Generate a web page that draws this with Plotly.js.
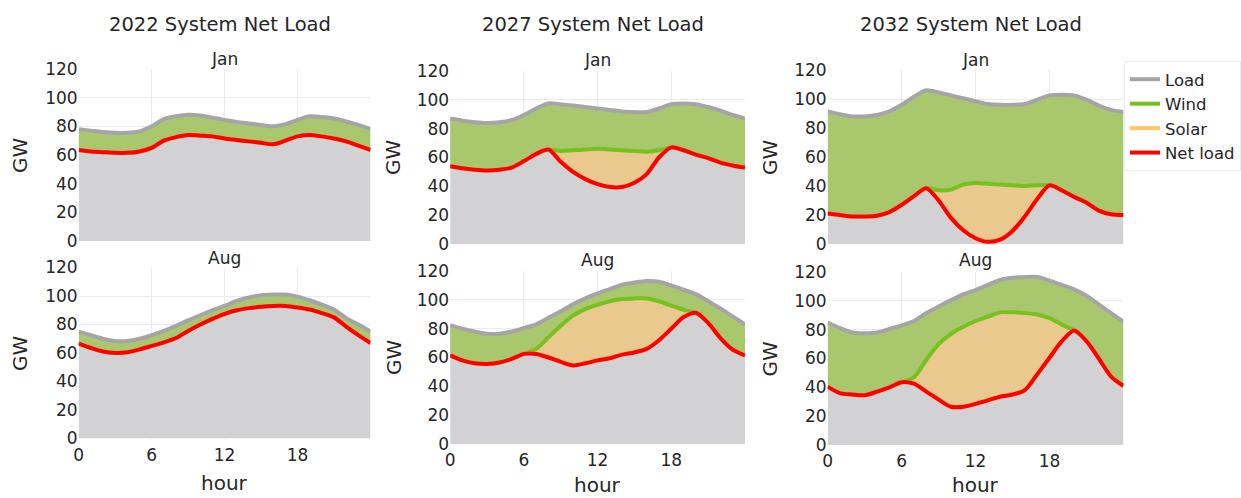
<!DOCTYPE html>
<html><head><meta charset="utf-8">
<script src="https://cdn.plot.ly/plotly-3.0.1.min.js"></script>
<style>html,body{margin:0;padding:0;background:#fff}#chart{width:1241px;height:498px}</style>
</head><body><div id="chart"></div>
<script>
// ---------- data ----------
const hours = [0,1,2,3,4,5,6,7,8,9,10,11,12,13,14,15,16,17,18,19,20,21,22,23,24];
const xTicks = [0,6,12,18];
const yearTitles = ['2022 System Net Load','2027 System Net Load','2032 System Net Load'];
const monthNames = ['Jan','Aug'];
const seriesNames = ['Load','Wind','Solar','Net load'];

const load2022Jan  = [78,77,76,75.5,75.5,76.5,80,85,87,88,87.5,86,84.5,83,82,81,80,81.5,84.5,87,86.5,85.5,83.5,81,78];
const wind2022Jan  = [14.5,14.5,14,14,14,14,15,15,14.5,14,14,13,13,12.5,12.5,12.5,12.5,11.5,11.5,13,13.5,14,14,14.5,14.5];
const solar2022Jan = [0,0,0,0,0,0,0,0,0,0,0,0,0,0,0,0,0,0,0,0,0,0,0,0,0];

const load2022Aug  = [75,72.5,70,68.5,68.5,70,72.5,75.5,79,83,86.5,90,93,96.5,99,100.5,101,101,99.5,97,94,90.5,84.5,80,75];
const wind2022Aug  = [8.5,9,9,8.5,8,7.5,7.5,8,8.5,7.5,6.5,6,5.5,6.5,7.5,8,8,8,7.5,6.5,6,5.5,6,7.5,8];
const solar2022Aug = [0,0,0,0,0,0,0,0,0,0,0,0,0,0,0,0,0,0,0,0,0,0,0,0,0];

const load2027Jan  = [87,85.5,84.5,84,84.5,86,89.5,94,97.5,97,96,95,94,93,92,91.5,91.5,94,97,97.5,97,95,92.5,89.5,87];
const wind2027Jan  = [33,33,33,33,33,33,32,31.5,32,32.5,31,29.5,28,27.5,27,27,27.5,29,30,32.5,35,35.5,36,35,34];
const solar2027Jan = [0,0,0,0,0,0,0,0,0,7.5,15,20.5,24.5,26,25.5,22,15.5,5,0,0,0,0,0,0,0];

const load2027Aug  = [82.5,80,78,76.5,76.5,78,80.5,83,87.5,92,97,101,104.5,107.5,110.5,112,113,112.5,110,107,104,99,94,88.5,83];
const wind2027Aug  = [21,22,22,21,20,19,18,17,13.5,10,8,7.5,8,8.5,10,11,12,13.5,14,14,13,15,20.5,23,21.5];
const solar2027Aug = [0,0,0,0,0,0,0,3.5,14,25,34.5,37.5,38.5,39.5,38.5,37.5,35,27,16,5,0,0,0,0,0];

const load2032Jan  = [91.5,89.5,88,88,89,91.5,96,101.5,106,104.5,102.5,100.5,98.5,96.5,96,96,96.5,99.5,102.5,103,102.5,99.5,95.5,92.5,91];
const wind2032Jan  = [70.5,69.5,69,69,69.5,69.5,69,68.5,67.5,67.5,65,59.5,56.5,55,55,55.5,56.5,59,62,66,70,71,72.5,72,71];
const solar2032Jan = [0,0,0,0,0,0,0,0,0,7,19.5,31.5,38,40,38,31.5,21,9.5,0,0,0,0,0,0,0];

const load2032Aug  = [85,81,78,77.5,78,80.5,83,86,91.5,96,100.5,104.5,107.5,111,114.5,116,116.5,116.5,114,111,108,103.5,97.5,91.5,85.5];
const wind2032Aug  = [44.5,45,43,43,41,40.5,39.5,39,32.5,26,23.5,22.5,21.5,22,22.5,24,25,26,26,27.5,28.5,31.5,37.5,44,44.5];
const solar2032Aug = [0,0,0,0,0,0,0,4.5,22,38.5,50.5,55.5,57.5,58,58.5,57,53.5,41.5,27.5,11.5,0,0,0,0,0];

// ---------- styling / layout config ----------
const W = 1241, H = 498;
const FONT = 'Verdana, "DejaVu Sans", sans-serif';
const TXT = '#262626';
const C = {
  grayFill: '#d2d2d4', greenFill: '#a9c76c', solarFill: '#eac98f',
  loadLine: '#a5a5a8', windLine: '#76c11f', solarLine: '#ffc861', netLine: '#ff0000'
};
const cols = [
  {x0:79,  x1:372,  top:[69,241], bot:[267.5,438.5], titleX:221,   gwX:20,  hourY:483, janY:59, augY:257.5},
  {x0:452, x1:748,  top:[71,244], bot:[271,444],     titleX:595,   gwX:395, hourY:485, janY:60, augY:260},
  {x0:831, x1:1128, top:[70,244], bot:[272,445],     titleX:974.5, gwX:773, hourY:485, janY:60, augY:260}
];
const panels = [
  [[load2022Jan, wind2022Jan, solar2022Jan], [load2022Aug, wind2022Aug, solar2022Aug]],
  [[load2027Jan, wind2027Jan, solar2027Jan], [load2027Aug, wind2027Aug, solar2027Aug]],
  [[load2032Jan, wind2032Jan, solar2032Jan], [load2032Aug, wind2032Aug, solar2032Aug]]
];

const px = x => x / W;
const py = y => 1 - y / H;
const line = {shape:'spline', smoothing:0.8};

const traces = [];
const layout = {
  width: W, height: H, autosize: false,
  margin: {l:0, r:0, t:0, b:0},
  paper_bgcolor: '#fff', plot_bgcolor: '#fff',
  font: {family: FONT, color: TXT, size: 17},
  showlegend: true,
  legend: {x: px(1129), y: py(61), xanchor:'left', yanchor:'top', tracegroupgap: 0,
           font:{family:FONT, size:16.5, color:TXT}, bgcolor:'#fff',
           bordercolor:'#ececec', borderwidth:1},
  annotations: []
};

let k = 0;
cols.forEach((col, ci) => {
  [0,1].forEach(ri => {
    k++;
    const xa = k === 1 ? 'x' : 'x' + k, ya = k === 1 ? 'y' : 'y' + k;
    const xk = k === 1 ? 'xaxis' : 'xaxis' + k, yk = k === 1 ? 'yaxis' : 'yaxis' + k;
    const [load, wind, solar] = panels[ci][ri];
    const upper = load.map((v,i) => v - wind[i]);           // load minus wind
    const net = load.map((v,i) => v - wind[i] - solar[i]);  // net load
    const common = {x: hours, xaxis: xa, yaxis: ya, type:'scatter', mode:'lines', hoverinfo:'skip'};
    traces.push({...common, y: load, fill:'tozeroy', fillcolor:C.grayFill, line:{...line, width:0}, showlegend:false});
    traces.push({...common, y: upper, fill:'tonexty', fillcolor:C.greenFill, line:{...line, width:0}, showlegend:false});
    traces.push({...common, y: net, fill:'tonexty', fillcolor:C.solarFill, line:{...line, width:0}, showlegend:false});
    const first = k === 1;
    traces.push({...common, y: load,  name: seriesNames[0], legendgroup:'load',  showlegend:first, line:{...line, width:4, color:C.loadLine}});
    traces.push({...common, y: upper, name: seriesNames[1], legendgroup:'wind',  showlegend:first, line:{...line, width:4, color:C.windLine}});
    traces.push({...common, y: net,   name: seriesNames[2], legendgroup:'solar', showlegend:first, line:{...line, width:4, color:C.solarLine}});
    traces.push({...common, y: net,   name: seriesNames[3], legendgroup:'net',   showlegend:first, line:{...line, width:4, color:C.netLine}});

    const rows = ri === 0 ? col.top : col.bot;
    layout[xk] = {
      domain: [px(col.x0), px(col.x1)], anchor: ya, range: [0, 24],
      tickmode:'array', tickvals: xTicks, ticktext: xTicks.map(String),
      showticklabels: ri === 1, ticks:'', ticklabelstandoff: 4,
      showgrid:true, gridcolor:'#ebebeb', gridwidth:1, zeroline:false, showline:false,
      tickfont:{family:FONT, size:17, color:TXT}
    };
    layout[yk] = {
      domain: [py(rows[1]), py(rows[0])], anchor: xa, range: [0, 120],
      tickmode:'linear', tick0:0, dtick:20, ticks:'',
      showgrid:true, gridcolor:'#ebebeb', gridwidth:1, zeroline:false, showline:false,
      tickfont:{family:FONT, size:17, color:TXT}
    };
    layout.annotations.push({text: monthNames[ri], xref:'paper', yref:'paper',
      x: px((col.x0 + col.x1) / 2), y: py(ri === 0 ? col.janY : col.augY),
      xanchor:'center', yanchor:'middle', showarrow:false, font:{family:FONT, size:17, color:TXT}});
    layout.annotations.push({text:'GW', xref:'paper', yref:'paper', textangle:-90,
      x: px(col.gwX), y: py((rows[0] + rows[1]) / 2),
      xanchor:'center', yanchor:'middle', showarrow:false, font:{family:FONT, size:20, color:TXT}});
  });
  layout.annotations.push({text: yearTitles[ci], xref:'paper', yref:'paper',
    x: px(col.titleX), y: py(24), xanchor:'center', yanchor:'middle', showarrow:false,
    font:{family:FONT, size:19.5, color:TXT}});
  layout.annotations.push({text:'hour', xref:'paper', yref:'paper',
    x: px((col.x0 + col.x1) / 2), y: py(col.hourY), xanchor:'center', yanchor:'middle', showarrow:false,
    font:{family:FONT, size:20, color:TXT}});
});

Plotly.newPlot('chart', traces, layout, {staticPlot:true, displayModeBar:false});
</script>
</body></html>
